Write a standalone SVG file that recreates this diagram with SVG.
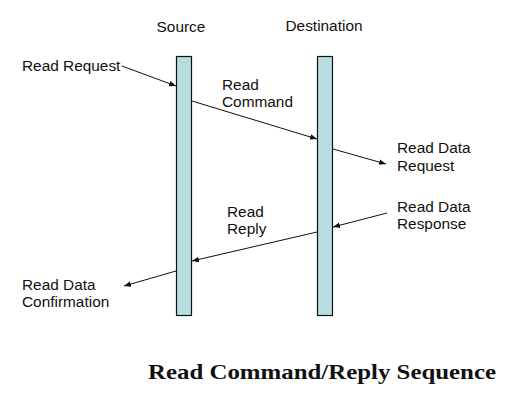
<svg xmlns="http://www.w3.org/2000/svg" width="514" height="401" viewBox="0 0 514 401">
<style>
.lbl{font-family:"Liberation Sans",Arial,sans-serif;font-size:15.4px;fill:#111}
.bar{fill:#b7dde0;stroke:#111;stroke-width:1.2}
.con{stroke:#111;stroke-width:1;fill:none;marker-end:url(#ah)}
.title{font-family:"Liberation Serif","Times New Roman",serif;font-size:21px;font-weight:bold;fill:#111}
</style>
<defs>
<marker id="ah" viewBox="0 0 10 10" refX="10" refY="5" markerWidth="7" markerHeight="7" markerUnits="userSpaceOnUse" orient="auto">
<path d="M0,1 L10,5 L0,9 z" fill="#111"/>
</marker>
</defs>
<rect width="514" height="401" fill="#fff"/>
<g id="source">
<rect class="bar" x="176.5" y="56.5" width="15" height="259"/>
<text class="lbl" x="181" y="32" text-anchor="middle">Source</text>
</g>
<g id="destination">
<rect class="bar" x="317.5" y="56.5" width="15" height="259"/>
<text class="lbl" x="324" y="31" text-anchor="middle">Destination</text>
</g>
<g id="connectors">
<line class="con" x1="122" y1="66" x2="176" y2="86"/>
<line class="con" x1="192" y1="101" x2="317" y2="139"/>
<line class="con" x1="333" y1="149" x2="386" y2="164"/>
<line class="con" x1="387" y1="213" x2="333" y2="227"/>
<line class="con" x1="317" y1="232" x2="192" y2="261"/>
<line class="con" x1="176" y1="271" x2="124" y2="286"/>
</g>
<g id="labels">
<text class="lbl" x="22" y="71">Read Request</text>
<text class="lbl" x="222" y="90">Read</text>
<text class="lbl" x="222" y="107">Command</text>
<text class="lbl" x="397" y="153">Read Data</text>
<text class="lbl" x="397" y="171">Request</text>
<text class="lbl" x="397" y="212">Read Data</text>
<text class="lbl" x="397" y="229">Response</text>
<text class="lbl" x="227" y="217">Read</text>
<text class="lbl" x="227" y="234">Reply</text>
<text class="lbl" x="22" y="290">Read Data</text>
<text class="lbl" x="22" y="307">Confirmation</text>
</g>
<text class="title" x="148" y="379" textLength="348" lengthAdjust="spacingAndGlyphs">Read Command/Reply Sequence</text>
</svg>
